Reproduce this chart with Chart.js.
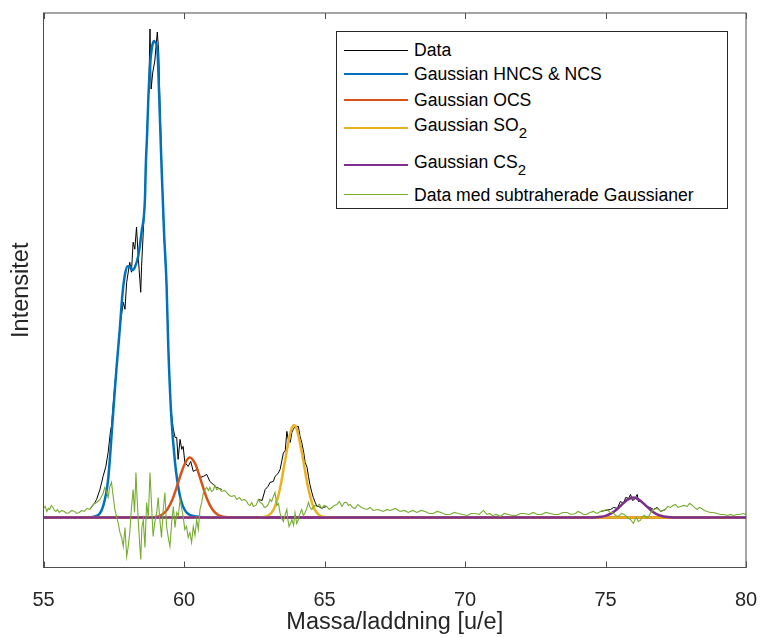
<!DOCTYPE html>
<html>
<head>
<meta charset="utf-8">
<script src="https://cdn.jsdelivr.net/npm/chart.js@4"></script>
<style>
  body { margin: 0; background: #fff; }
  #wrap { position: relative; width: 761px; height: 637px; }
  #legend {
    position: absolute; left: 336px; top: 31px; width: 392px; height: 178px;
    border: 1px solid #262626; background: #fff; box-sizing: border-box;
    font-family: 'Liberation Sans', Arial, sans-serif; font-size: 17.6px; color: #000;
  }
  .row { position: absolute; left: 0; height: 0; }
  .swatch { position: absolute; left: 7px; width: 64px; }
  .label { position: absolute; left: 77px; white-space: nowrap; transform: translateY(-50%); }
  .label sub { font-size: 0.85em; vertical-align: -0.45em; line-height: 1; }
</style>
</head>
<body>
<div id="wrap">
  <canvas id="chart" width="761" height="637"></canvas>
  <div id="legend"></div>
</div>
<script>
// x axis ticks
const massTicks = [55, 60, 65, 70, 75, 80];

// measured data (black), gaps where it is hidden under the green trace
const dataX = [56.65,56.83,56.89,57.01,57.12,57.22,57.30,57.39,57.42,57.50,57.58,57.66,57.72,57.84,57.90,
  57.96,58.07,58.13,58.19,58.25,58.31,58.37,58.46,58.49,58.55,58.61,58.68,58.75,58.79,58.83,
  58.89,58.96,59.05,59.10,59.14,59.21,59.28,59.38,59.44,59.53,59.61,59.68,59.74,59.79,59.86,
  59.92,59.97,60.03,60.15,60.24,60.33,60.45,60.57,60.69,60.81,60.92,61.04,61.16,61.34,
  62.0,
  62.65,62.78,62.89,62.99,63.06,63.18,63.24,63.35,63.42,63.54,63.60,63.66,63.71,63.78,63.84,
  63.89,63.95,64.01,64.07,64.13,64.19,64.26,64.31,64.38,64.43,64.48,64.55,64.60,64.67,64.73,
  64.79,64.90,64.96,65.08,
  70.0,
  74.82,75.00,75.18,75.29,75.42,75.53,75.64,75.72,75.83,75.89,75.96,76.03,76.13,76.17,76.24,
  76.36,76.46,76.58,76.71,76.84,76.96,77.13];
const dataY = [8,15,18,28,41,51,65,88,91,120,145,168,191,215,208,
  235,255,245,275,268,290,261,225,251,285,320,385,430,488,428,
  445,456,485,465,418,350,285,232,171,110,90,80,80,58,78,
  68,71,55,51,56,46,48,40,41,43,36,33,30,28,
  null,
  18,17,28,31,35,36,41,44,48,65,66,86,78,75,85,
  88,91,91,91,81,75,65,55,50,41,33,25,20,15,11,
  11,9,10,11,
  null,
  6,7,8,10,9,16,14,20,19,23,17,18,23,16,16,
  13,11,10,8,10,6,8];

// Gaussian HNCS & NCS (two components summed)
const hncsX = [55,56.5,56.83,57.12,57.30,57.48,57.60,57.72,57.80,57.90,58.00,58.08,58.16,58.25,58.37,58.49,
  58.61,58.64,58.69,58.73,58.79,58.85,58.93,58.97,59.05,59.12,59.20,59.29,59.38,59.44,59.54,59.68,
  59.86,60.09,60.45,61.0,80];
const hncsY = [0,0,1,11,38,105,150,190,220,243,251,250,247,250,261,285,
  318,351,385,418,451,468,476,475,468,418,351,285,232,171,105,55,
  21,5,1,0,0];

// Gaussian OCS
const ocsX = [55,58.8,59.0,59.2,59.4,59.6,59.8,60.0,60.2,60.4,60.6,60.8,61.0,61.2,61.4,61.8,80];
const ocsY = [0,0,0.5,2.5,7.7,18.8,35.5,52,60,53.6,37,20,8.5,2.8,0.7,0,0];

// Gaussian SO2
const so2X = [55,62.6,62.8,63.0,63.2,63.4,63.6,63.8,63.9,64.0,64.2,64.4,64.6,64.8,65.0,65.4,80];
const so2Y = [0,0,0.3,1.9,8.5,26.6,57.5,86,92,89.4,64,32,11,2.6,0.4,0,0];

// Gaussian CS2
const cs2X = [55,74.6,74.8,75.0,75.2,75.4,75.6,75.8,76.0,76.2,76.4,76.6,76.8,77.0,77.2,77.4,80];
const cs2Y = [0,0,0.6,1.6,4,8,13.3,18,20,17.6,12.8,7.5,3.6,1.4,0.5,0,0];

// data with the Gaussians subtracted (green)
const restX = [55.00,55.06,55.12,55.17,55.22,55.28,55.34,55.39,55.44,55.50,55.56,55.65,55.74,55.83,55.92,56.01,
  56.10,56.18,56.27,56.36,56.45,56.55,56.65,56.77,56.89,57.01,
  57.12,57.18,57.24,57.30,57.36,57.42,57.48,57.54,57.60,57.66,57.72,57.78,57.84,57.90,57.96,58.01,58.07,58.13,
  58.19,58.24,58.29,58.33,58.37,58.42,58.46,58.50,58.55,58.61,58.67,58.73,
  58.79,58.85,58.90,58.96,59.03,59.08,59.14,59.20,59.26,59.32,59.38,59.44,59.50,59.56,59.62,59.68,59.74,59.80,59.86,
  59.92,59.97,60.03,60.09,60.15,60.21,60.27,60.33,60.39,60.45,60.51,60.57,60.63,60.69,60.75,60.81,60.87,
  60.92,60.98,61.04,61.10,61.16,61.25,61.34,61.43,61.52,61.61,61.70,61.79,61.88,61.97,62.05,62.14,62.23,62.29,
  62.35,62.41,62.47,62.56,62.65,62.71,62.78,62.86,62.94,63.00,63.06,63.12,63.18,63.24,63.30,63.36,63.42,63.48,
  63.54,63.60,63.66,63.70,63.74,63.79,63.84,63.90,63.95,64.01,64.07,64.13,64.19,64.25,64.31,64.37,64.43,64.49,
  64.55,64.64,64.73,64.82,64.90,64.99,65.08,65.17,65.26,65.35,65.44,65.53,65.62,65.71,65.79,65.85,65.91,66.00,
  66.09,66.18,66.27,66.39,66.51,66.62,66.73,66.91,67.09,67.22,67.34,67.52,67.69,67.84,67.98,68.14,68.29,68.44,
  68.58,68.73,68.87,69.01,69.15,69.31,69.47,69.62,69.76,69.92,70.07,70.22,70.37,70.51,70.65,70.72,70.78,70.88,
  70.97,71.12,71.26,71.40,71.54,71.69,71.83,71.97,72.11,72.27,72.43,72.58,72.72,72.88,73.04,73.18,73.32,73.48,
  73.63,73.78,73.93,74.02,74.11,74.22,74.32,74.45,74.57,74.70,74.82,74.94,75.06,75.16,75.25,75.36,75.46,75.57,
  75.67,75.78,75.89,75.94,75.99,76.05,76.10,76.17,76.24,76.32,76.39,76.46,76.53,76.62,76.71,76.84,76.96,77.05,
  77.13,77.22,77.31,77.40,77.49,77.58,77.67,77.79,77.91,77.99,78.06,78.16,78.26,78.34,78.42,78.52,78.62,78.73,
  78.84,78.97,79.09,79.22,79.34,79.45,79.56,79.67,79.77,79.89,80.00];
const restY = [9,11,6,9,8,12,10,7,6,8,5,7,6,4,5,7,
  6,4,5,7,6,9,8,13,15,18,
  24,30,26,20,31,35,21,8,1,-6,-15,-20,-29,-10,-39,-30,-15,10,
  28,5,45,20,-2,-25,-42,-10,-2,-30,15,0,
  45,10,-19,-5,5,20,-2,-20,8,25,-9,-20,-29,-5,11,-10,5,2,18,
  8,1,-12,-9,-20,-15,-25,-9,-18,-2,-12,8,15,25,28,30,27,
  30,26,27,32,28,29,26,27,25,22,21,22,18,20,17,18,16,13,
  12,15,11,12,18,15,14,10,11,13,18,16,21,25,12,14,4,-1,
  -4,3,8,-3,-9,-6,-2,-8,5,-6,-2,4,8,2,5,9,15,10,
  8,12,11,13,9,12,11,8,10,12,13,16,11,15,15,12,13,10,
  9,13,11,9,8,10,7,8,6,8,7,9,6,7,5,7,5,7,
  6,4,4,6,5,3,3,5,4,3,2,4,4,3,7,5,3,4,
  2,3,1,4,3,2,2,4,4,3,5,3,3,5,4,3,3,5,
  5,3,4,6,5,3,3,5,6,4,6,7,8,5,5,2,1,4,
  3,0,-2,-4,-6,-2,0,-4,-3,1,2,0,1,5,8,9,6,7,
  8,11,10,12,13,10,11,12,11,14,13,10,8,10,9,7,6,5,
  5,4,3,3,2,3,2,3,3,4,3];

const toPoints = (xs, ys) => xs.map((x, i) => ({ x: x, y: ys[i] }));

const FONT = "'Liberation Sans', Arial, sans-serif";
Chart.defaults.font.family = FONT;

const series = [
  { label: 'Data', html: 'Data', x: dataX, y: dataY, color: '#000000', width: 1, smooth: false, order: 6 },
  { label: 'Gaussian HNCS & NCS', html: 'Gaussian HNCS &amp; NCS', x: hncsX, y: hncsY, color: '#0072BD', width: 2.5, smooth: true, order: 5 },
  { label: 'Gaussian OCS', html: 'Gaussian OCS', x: ocsX, y: ocsY, color: '#D95319', width: 2.5, smooth: true, order: 4 },
  { label: 'Gaussian SO2', html: 'Gaussian SO<sub>2</sub>', x: so2X, y: so2Y, color: '#EDB120', width: 2.5, smooth: true, order: 3 },
  { label: 'Gaussian CS2', html: 'Gaussian CS<sub>2</sub>', x: cs2X, y: cs2Y, color: '#7E2F8E', width: 2.5, smooth: true, order: 2 },
  { label: 'Data med subtraherade Gaussianer', html: 'Data med subtraherade Gaussianer', x: restX, y: restY, color: '#77AC30', width: 1.1, smooth: false, order: 1 }
];

// box and inward ticks, MATLAB style
const framePlugin = {
  id: 'frame',
  afterDatasetsDraw(chart) {
    const { ctx, chartArea: a, scales } = chart;
    ctx.save();
    ctx.strokeStyle = '#4d4d4d';
    ctx.lineWidth = 1;
    ctx.strokeRect(a.left, a.top, a.right - a.left, a.bottom - a.top);
    ctx.beginPath();
    massTicks.forEach(v => {
      const px = Math.round(scales.x.getPixelForValue(v)) + 0.5;
      ctx.moveTo(px, a.bottom); ctx.lineTo(px, a.bottom - 6);
      ctx.moveTo(px, a.top); ctx.lineTo(px, a.top + 6);
    });
    ctx.stroke();
    ctx.restore();
  }
};

new Chart(document.getElementById('chart'), {
  type: 'line',
  data: {
    datasets: series.map(s => ({
      label: s.label,
      data: toPoints(s.x, s.y),
      borderColor: s.color,
      backgroundColor: s.color,
      borderWidth: s.width,
      pointRadius: 0,
      fill: false,
      spanGaps: false,
      cubicInterpolationMode: s.smooth ? 'monotone' : 'default',
      tension: 0,
      order: s.order
    }))
  },
  options: {
    responsive: false,
    animation: false,
    layout: { padding: { top: 13, right: 15, left: 0, bottom: 0 } },
    plugins: { legend: { display: false }, tooltip: { enabled: false } },
    scales: {
      x: {
        type: 'linear', min: 55, max: 80,
        afterBuildTicks: s => { s.ticks = massTicks.map(v => ({ value: v })); },
        afterFit: s => { s.height = 69.5; s.paddingLeft = 0; s.paddingRight = 0; },
        grid: { display: false, drawTicks: false },
        border: { display: false },
        ticks: { font: { size: 20 }, color: '#262626', padding: 21, maxRotation: 0 },
        title: { display: true, text: 'Massa/laddning [u/e]', font: { size: 23.5 }, color: '#262626', padding: 0 }
      },
      y: {
        min: -50, max: 504,
        afterFit: s => { s.width = 43.5; s.paddingTop = 0; s.paddingBottom = 0; },
        grid: { display: false, drawTicks: false },
        border: { display: false },
        ticks: { display: false },
        title: { display: true, text: 'Intensitet', font: { size: 23.5 }, color: '#262626', padding: { top: 7 } }
      }
    }
  },
  plugins: [framePlugin]
});

// legend with real subscripts
const legendRows = [18, 42, 68, 96, 133, 163];
const legend = document.getElementById('legend');
series.forEach((s, i) => {
  const row = document.createElement('div');
  row.className = 'row';
  row.style.top = legendRows[i] + 'px';
  const sw = document.createElement('div');
  sw.className = 'swatch';
  sw.style.borderTop = s.width + 'px solid ' + s.color;
  sw.style.top = (-s.width / 2) + 'px';
  const lab = document.createElement('div');
  lab.className = 'label';
  lab.innerHTML = s.html;
  row.appendChild(sw);
  row.appendChild(lab);
  legend.appendChild(row);
});
</script>
</body>
</html>
